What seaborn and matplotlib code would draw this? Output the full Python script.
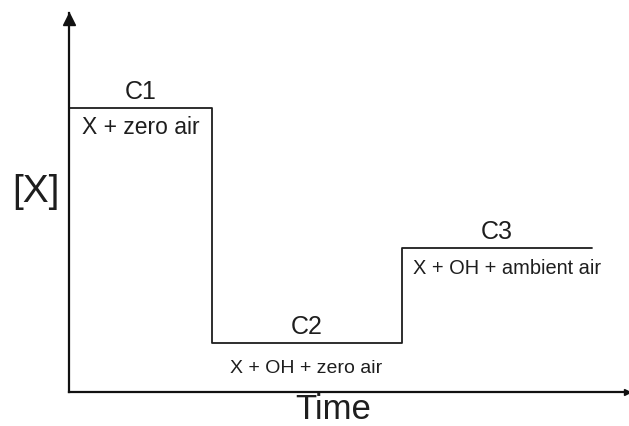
import matplotlib
matplotlib.use("Agg")
import matplotlib.pyplot as plt
import matplotlib.transforms as mtransforms
import numpy as np
import pandas as pd
import seaborn as sns

# step profile of [X] across the three conditions
phase_names  = ["C1", "C2", "C3"]
phase_desc   = ["X + zero air", "X + OH + zero air", "X + OH + ambient air"]
phase_start  = [0.0, 2.56, 5.97]
phase_end    = 9.37
phase_level  = [7.5, 1.3, 3.8]

sns.set_style("white")
plt.rcParams["font.family"] = ["Liberation Sans", "DejaVu Sans"]

df = pd.DataFrame({
    "time": phase_start + [phase_end],
    "conc": phase_level + [phase_level[-1]],
})

fig = plt.figure(figsize=(6.29, 4.26), dpi=100)
ax = fig.add_axes([69 / 629, 34 / 426, 558 / 629, 379 / 426])

sns.lineplot(data=df, x="time", y="conc", drawstyle="steps-post",
             color="#1e1e1e", linewidth=1.3, ax=ax)

ax.set_xlim(0, 10)
ax.set_ylim(0, 10)
ax.set_xticks([]); ax.set_yticks([])
ax.set_xlabel(""); ax.set_ylabel("")
for side in ["top", "right"]:
    ax.spines[side].set_visible(False)
for side in ["left", "bottom"]:
    ax.spines[side].set_linewidth(1.6)
    ax.spines[side].set_color("#111111")

# arrow heads on the axes
shift_down = mtransforms.ScaledTranslation(0, -6 / 100, fig.dpi_scale_trans)
ax.plot(0, 1, marker="^", markersize=8, color="#111111",
        transform=ax.transAxes + shift_down, clip_on=False)
ax.plot(1, 0, marker=">", markersize=4, color="#111111",
        transform=ax.transAxes, clip_on=False)

# phase labels
ends = phase_start[1:] + [phase_end]
desc_size = [16.5, 14, 14.4]
desc_dx = [0, -1, 10]
desc_dy = [-20, -26, -21]
for i, name in enumerate(phase_names):
    mid = (phase_start[i] + ends[i]) / 2
    ax.annotate(name, (mid, phase_level[i]), xytext=(0, 16),
                textcoords="offset pixels", ha="center", va="center",
                fontsize=18, color="#1e1e1e")
    ax.annotate(phase_desc[i], (mid, phase_level[i]),
                xytext=(desc_dx[i], desc_dy[i]),
                textcoords="offset pixels", ha="center", va="center",
                fontsize=desc_size[i], color="#1e1e1e")

fig.text(36 / 629, 1 - 192 / 426, "[X]", ha="center", va="center",
         fontsize=28, color="#1e1e1e")
fig.text(333 / 629, 0.2 / 426, "Time", ha="center", va="bottom",
         fontsize=25, color="#1e1e1e")

fig.savefig("out.png", dpi=100)
